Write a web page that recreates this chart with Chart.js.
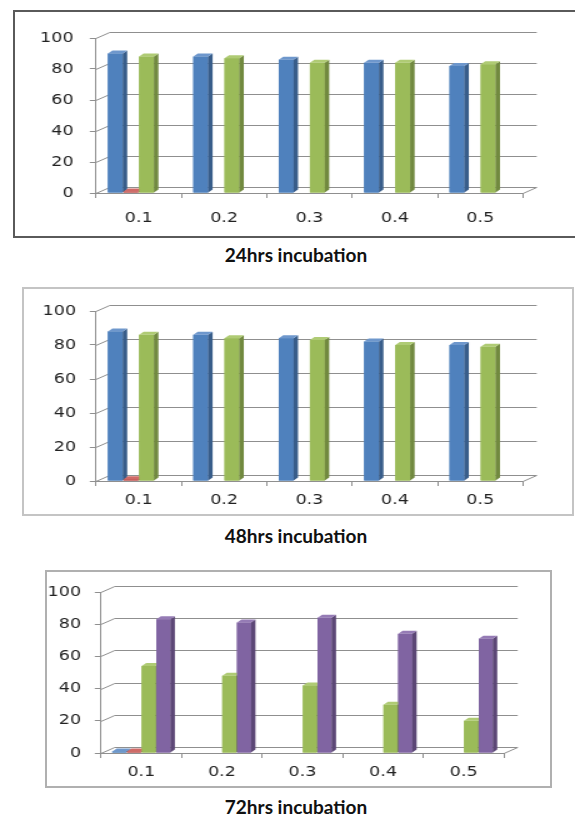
<!DOCTYPE html>
<html>
<head>
<meta charset="utf-8">
<script src="https://cdn.jsdelivr.net/npm/chart.js@4.4.1/dist/chart.umd.min.js"></script>
<style>
  body { margin: 0; background: #fff; width: 575px; height: 817px; position: relative; overflow: hidden; }
  .box { position: absolute; box-sizing: border-box; }
  .wrap { position: absolute; left: 0; transform: scaleX(1.25); transform-origin: 0 0; }
  .title { position: absolute; left: 0; width: 592px; text-align: center; font: bold 19px Lato, "Liberation Sans", sans-serif; color: #111; }
</style>
</head>
<body>
<div class="box" style="left:13px;top:10px;width:580px;height:228px;border:2px solid #5a5a5a;"></div>
<div class="box" style="left:22px;top:287px;width:552px;height:229px;border:2px solid #c4c4c4;"></div>
<div class="box" style="left:45px;top:570px;width:507px;height:218px;border:2px solid #b0b0b0;"></div>

<div class="wrap" style="top:10px"><canvas id="c24" width="460" height="228"></canvas></div>
<div class="wrap" style="top:287px"><canvas id="c48" width="460" height="229"></canvas></div>
<div class="wrap" style="top:570px"><canvas id="c72" width="460" height="218"></canvas></div>

<div class="title" style="top:243px">24hrs incubation</div>
<div class="title" style="top:524px">48hrs incubation</div>
<div class="title" style="top:795px">72hrs incubation</div>

<script>
// dose categories and y ticks
var doses = ['0.1', '0.2', '0.3', '0.4', '0.5'];
var yMax = 100;
var yStep = 20;

// 24 hrs
var blue24 = [90, 88, 86, 84, 82];
var red24 = [1, 0, 0, 0, 0];
var green24 = [88, 87, 84, 84, 83];
var purple24 = [0, 0, 0, 0, 0];

// 48 hrs
var blue48 = [88, 86, 84, 82, 80];
var red48 = [1, 0, 0, 0, 0];
var green48 = [86, 84, 83, 80, 79];
var purple48 = [0, 0, 0, 0, 0];

// 72 hrs
var blue72 = [1, 0, 0, 0, 0];
var red72 = [1, 0, 0, 0, 0];
var green72 = [54, 48, 42, 30, 20];
var purple72 = [83, 81, 84, 74, 71];

var colors = ['#4F81BD', '#C0504D', '#9BBB59', '#8064A2'];
var sides = ['#385D8A', '#8C3836', '#71893F', '#5C4776'];
var tops = ['#6E97CC', '#D06A67', '#AFCB74', '#957BB5'];

var S = 1.25;          // horizontal stretch of the wrappers
var WALL_X = 11, WALL_Y = 6;
var DEPTH_X = 3.6, DEPTH_Y = 3;
var gridColor = '#8f8f8f';
var tickFont = { family: 'DejaVu Sans', size: 14 };

var fake3d = {
    id: 'fake3d',
    beforeDatasetsDraw: function(chart) {
        var ctx = chart.ctx, a = chart.chartArea, ys = chart.scales.y;
        ctx.save();
        ctx.strokeStyle = gridColor;
        ctx.lineWidth = 1;
        ys.ticks.forEach(function(t) {
            var y = Math.round(ys.getPixelForValue(t.value)) + 0.5;
            ctx.beginPath();
            ctx.moveTo(a.left, y);
            ctx.lineTo(a.left + WALL_X, y - WALL_Y);
            ctx.lineTo(a.right + WALL_X, y - WALL_Y);
            ctx.stroke();
        });
        var yb = Math.round(a.bottom) + 0.5;
        ctx.beginPath();
        ctx.moveTo(a.right, yb);
        ctx.lineTo(a.right + WALL_X, yb - WALL_Y);
        ctx.stroke();
        ctx.restore();
    },
    afterDatasetsDraw: function(chart) {
        var ctx = chart.ctx;
        var n = chart.data.labels.length;
        ctx.save();
        for (var j = 0; j < n; j++) {
            chart.data.datasets.forEach(function(ds, i) {
                var v = ds.data[j];
                if (!v) return;
                var bar = chart.getDatasetMeta(i).data[j];
                var p = bar.getProps(['x', 'y', 'base', 'width'], true);
                var l = p.x - p.width / 2, r = p.x + p.width / 2;
                ctx.fillStyle = colors[i];
                ctx.fillRect(l, p.y, p.width, p.base - p.y);
                ctx.fillStyle = sides[i];
                ctx.beginPath();
                ctx.moveTo(r, p.y);
                ctx.lineTo(r + DEPTH_X, p.y - DEPTH_Y);
                ctx.lineTo(r + DEPTH_X, p.base - DEPTH_Y);
                ctx.lineTo(r, p.base);
                ctx.closePath();
                ctx.fill();
                ctx.fillStyle = tops[i];
                ctx.beginPath();
                ctx.moveTo(l, p.y);
                ctx.lineTo(l + DEPTH_X, p.y - DEPTH_Y);
                ctx.lineTo(r + DEPTH_X, p.y - DEPTH_Y);
                ctx.lineTo(r, p.y);
                ctx.closePath();
                ctx.fill();
            });
        }
        ctx.restore();
    }
};

function makeChart(id, series, g) {
    var ctx = document.getElementById(id).getContext('2d');
    return new Chart(ctx, {
        type: 'bar',
        data: {
            labels: doses,
            datasets: series.map(function(d, i) {
                return {
                    data: d,
                    backgroundColor: colors[i],
                    barPercentage: 0.95,
                    categoryPercentage: 0.73
                };
            })
        },
        options: {
            responsive: false,
            animation: false,
            devicePixelRatio: 1,
            layout: { padding: { top: g.top, right: g.right, left: 0, bottom: 0 } },
            plugins: { legend: { display: false }, tooltip: { enabled: false } },
            scales: {
                x: {
                    grid: { offset: true, drawOnChartArea: false, tickLength: 5, color: gridColor },
                    border: { color: gridColor },
                    ticks: { font: tickFont, color: '#222', padding: g.xPad },
                    afterFit: function(s) { s.height = g.xHeight; }
                },
                y: {
                    min: 0,
                    max: yMax,
                    grid: { drawOnChartArea: false, tickLength: 5, color: gridColor },
                    border: { color: gridColor },
                    ticks: { stepSize: yStep, font: tickFont, color: '#222', padding: g.yPad },
                    afterFit: function(s) { s.width = g.axisX / S; }
                }
            }
        },
        plugins: [fake3d]
    });
}

makeChart('c24', [blue24, red24, green24, purple24],
    { top: 28, right: 460 - 523 / S, axisX: 96, xHeight: 45, xPad: 12, yPad: 13 });
makeChart('c48', [blue48, red48, green48, purple48],
    { top: 24, right: 460 - 523 / S, axisX: 96, xHeight: 35, xPad: 6, yPad: 11 });
makeChart('c72', [blue72, red72, green72, purple72],
    { top: 22, right: 460 - 504 / S, axisX: 101, xHeight: 35, xPad: 6, yPad: 11 });
</script>
</body>
</html>
